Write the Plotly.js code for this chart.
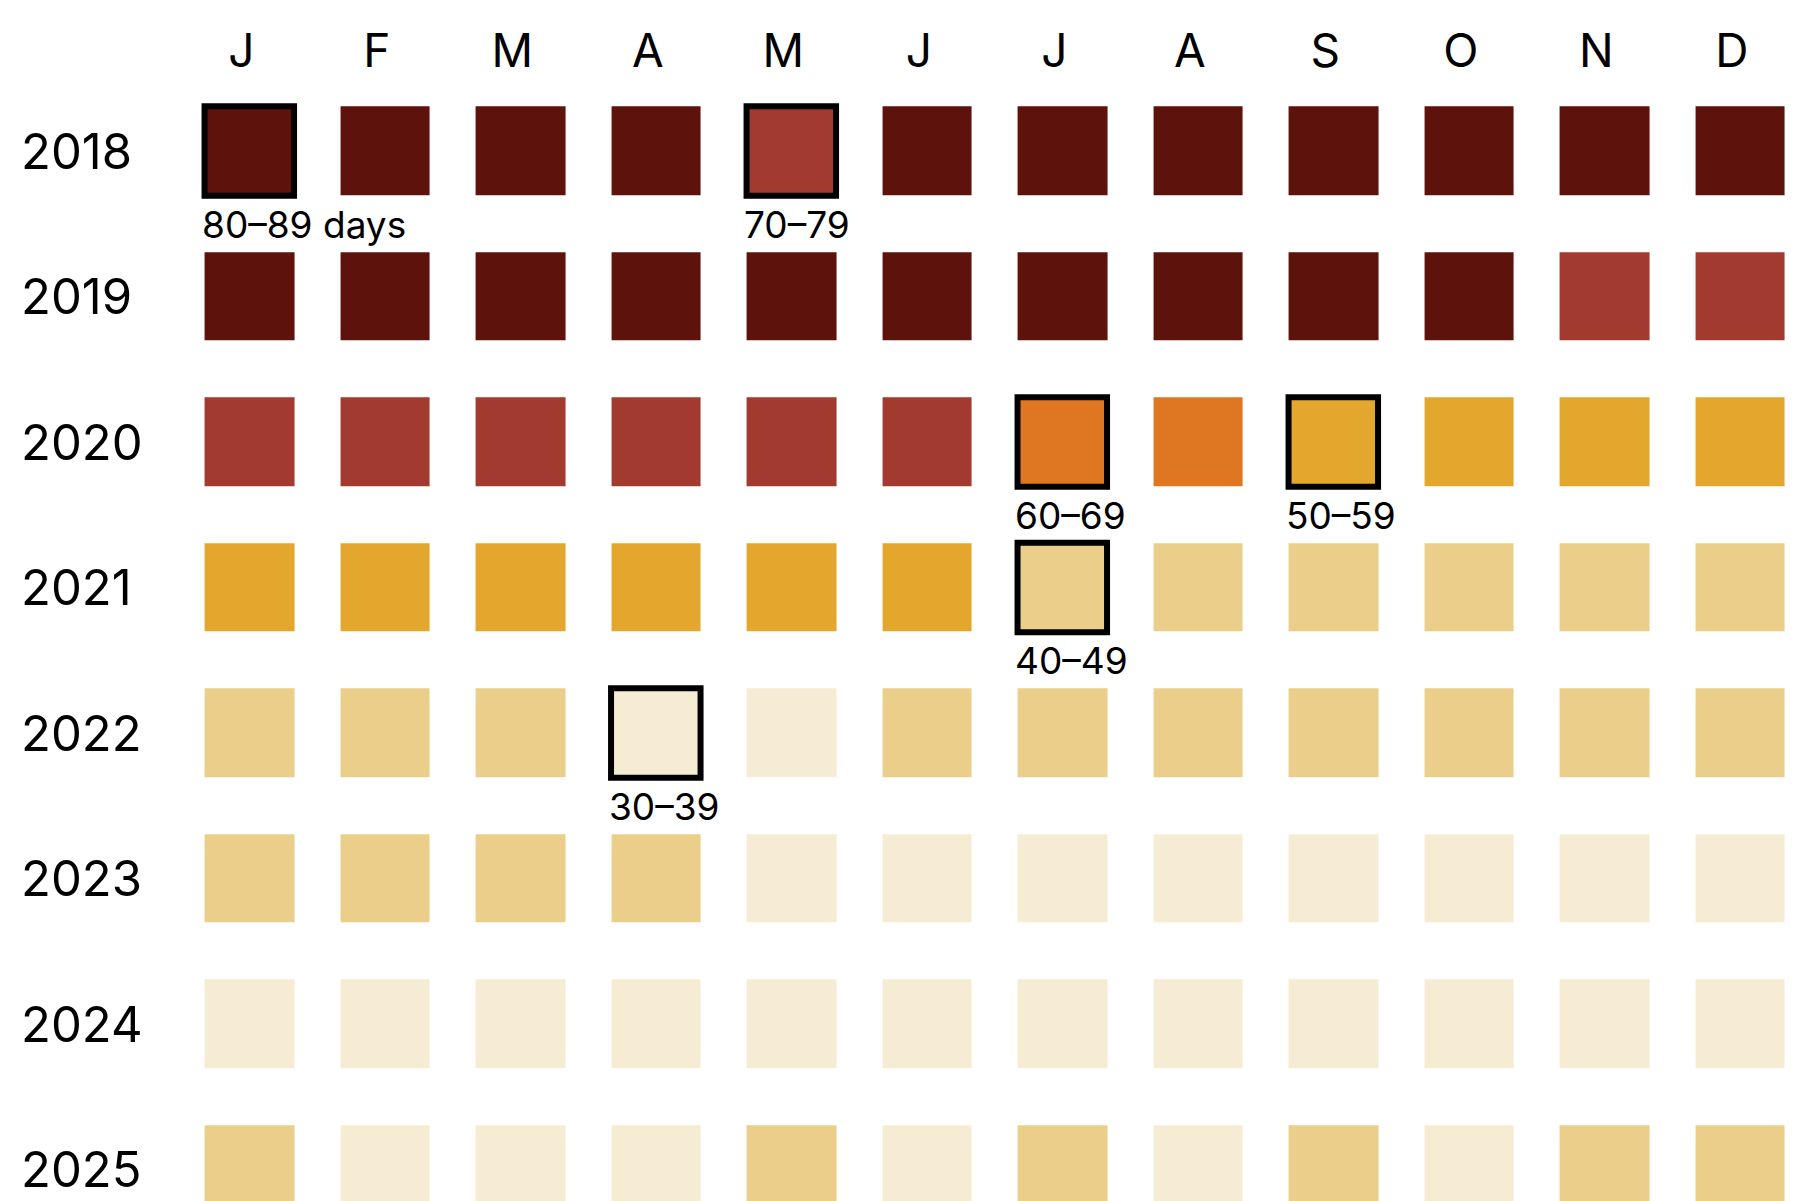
<!DOCTYPE html>
<html>
<head>
<meta charset="utf-8">
<script src="https://cdn.plot.ly/plotly-3.0.1.min.js"></script>
<style>
  html, body { margin: 0; padding: 0; background: #ffffff; }
  #chart { width: 1801px; height: 1201px; }
</style>
</head>
<body>
<div id="chart"></div>
<script>
// ---- data ----
const monthLabels = ['J', 'F', 'M', 'A', 'M', 'J', 'J', 'A', 'S', 'O', 'N', 'D'];
const years = [2018, 2019, 2020, 2021, 2022, 2023, 2024, 2025];

// lower bound of the day bin for each month (days)
const y2018 = [80, 80, 80, 80, 70, 80, 80, 80, 80, 80, 80, 80];
const y2019 = [80, 80, 80, 80, 80, 80, 80, 80, 80, 80, 70, 70];
const y2020 = [70, 70, 70, 70, 70, 70, 60, 60, 50, 50, 50, 50];
const y2021 = [50, 50, 50, 50, 50, 50, 40, 40, 40, 40, 40, 40];
const y2022 = [40, 40, 40, 30, 30, 40, 40, 40, 40, 40, 40, 40];
const y2023 = [40, 40, 40, 40, 30, 30, 30, 30, 30, 30, 30, 30];
const y2024 = [30, 30, 30, 30, 30, 30, 30, 30, 30, 30, 30, 30];
const y2025 = [40, 30, 30, 30, 40, 30, 40, 30, 40, 30, 40, 40];

const binLows = [30, 40, 50, 60, 70, 80];
const binColors = ['#F5ECD3', '#EBCE89', '#E4A72D', '#DF7621', '#A23A2F', '#5D120C'];

// highlighted (labelled) cells
const hlMonth = [0, 4, 6, 8, 6, 3];
const hlYear = [2018, 2018, 2020, 2020, 2021, 2022];
const hlLabel = ['80–89 days', '70–79', '60–69', '50–59', '40–49', '30–39'];

// ---- build ----
const rows = [y2018, y2019, y2020, y2021, y2022, y2023, y2024, y2025];
const monthIdx = monthLabels.map((_, i) => i);
const z = rows.map(r => r.map(v => binLows.indexOf(v)));
const n = binColors.length - 1;
const colorscale = binColors.map((c, i) => [i / n, c]);

const FONT = 'Inter, "Noto Sans", sans-serif';
const W = 1801, H = 1201;
const ML = 150, MT = 90;
const pitchX = 135.5, pitchY = 145.5;
const gapX = 46, gapY = 57;
const firstCX = 249.3, firstCY = 151;

const xr0 = -(firstCX - ML) / pitchX;
const xr1 = xr0 + (W - ML) / pitchX;
const yr0 = years[0] - (firstCY - MT) / pitchY;
const yr1 = yr0 + (H - MT) / pitchY;

const heat = {
  type: 'heatmap',
  x: monthIdx,
  y: years,
  z: z,
  zmin: 0,
  zmax: n,
  colorscale: colorscale,
  showscale: false,
  xgap: gapX,
  ygap: gapY,
  hoverinfo: 'skip'
};

const hlColors = hlMonth.map((m, i) => {
  const row = rows[years.indexOf(hlYear[i])];
  return binColors[binLows.indexOf(row[m])];
});

const outline = {
  type: 'scatter',
  mode: 'markers',
  x: hlMonth,
  y: hlYear,
  marker: {
    symbol: 'square',
    size: pitchX - gapX,
    color: hlColors,
    line: { color: '#000000', width: 6 }
  },
  hoverinfo: 'skip',
  cliponaxis: false
};

const annotations = [];
hlLabel.forEach((t, i) => {
  annotations.push({
    x: hlMonth[i], y: hlYear[i], xref: 'x', yref: 'y',
    text: t, showarrow: false,
    xanchor: 'left', yanchor: 'middle',
    xshift: -49, yshift: -73,
    font: { family: FONT, size: 37, color: '#000000' }
  });
});
years.forEach(yv => {
  annotations.push({
    x: 0, y: yv, xref: 'paper', yref: 'y',
    text: String(yv), showarrow: false,
    xanchor: 'left', yanchor: 'middle',
    xshift: 19 - ML,
    font: { family: FONT, size: 49, color: '#000000' }
  });
});

const layout = {
  width: W,
  height: H,
  margin: { l: ML, r: 0, t: MT, b: 0, pad: 0 },
  paper_bgcolor: '#ffffff',
  plot_bgcolor: '#ffffff',
  showlegend: false,
  font: { family: FONT, color: '#000000' },
  xaxis: {
    range: [xr0, xr1],
    side: 'top',
    tickmode: 'array',
    tickvals: monthIdx,
    ticktext: monthLabels,
    ticks: '',
    showgrid: false,
    zeroline: false,
    showline: false,
    tickfont: { family: FONT, size: 46, color: '#000000' },
    ticklabelstandoff: 13,
    ticklabelshift: -8,
    fixedrange: true
  },
  yaxis: {
    range: [yr1, yr0],
    showticklabels: false,
    ticks: '',
    showgrid: false,
    zeroline: false,
    showline: false,
    fixedrange: true
  },
  annotations: annotations
};

Plotly.newPlot('chart', [heat, outline], layout, { displayModeBar: false, staticPlot: true });
</script>
</body>
</html>
